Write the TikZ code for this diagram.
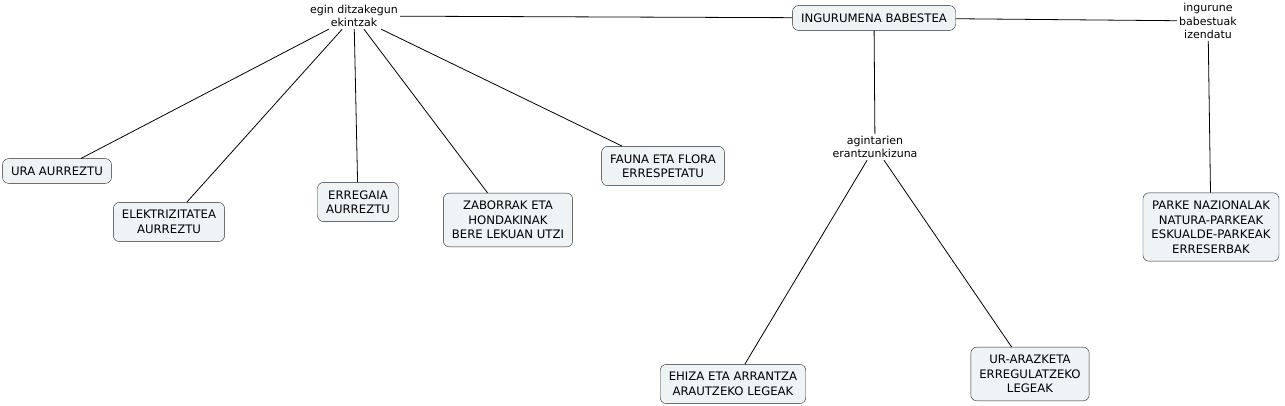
\documentclass[tikz,border=0pt]{standalone}
\usepackage{fontspec}
\setmainfont{DejaVu Sans}
\usepackage{xcolor}
\definecolor{boxfill}{HTML}{EEF3F5}
\tikzset{
  block/.style = {rectangle, draw=black!85, fill=boxfill, rounded corners=6pt, align=center, inner xsep=8.5pt, inner ysep=8pt, font=\fontsize{11.7}{14.5}\selectfont},
  concept/.style = {rectangle, align=center, inner sep=2pt, font=\fontsize{11}{13.5}\selectfont},
  link/.style = {draw=black, line width=0.8pt}
}
\begin{document}
\begin{tikzpicture}[x=1pt, y=-1pt]
\useasboundingbox[fill=white] (0,0) rectangle (1285,406);

% central topic and its three branches
\node[block] (root) at (874,18) {INGURUMENA BABESTEA};
\node[concept] (acts) at (354,16) {egin ditzakegun\\ekintzak};
\node[concept] (auth) at (875,147) {agintarien\\erantzunkizuna};
\node[concept] (prot) at (1208,21) {ingurune\\babestuak\\izendatu};

% what we can do
\node[block] (water) at (57,171) {URA AURREZTU};
\node[block] (elec) at (169,222) {ELEKTRIZITATEA\\AURREZTU};
\node[block] (fuel) at (358,202) {ERREGAIA\\AURREZTU};
\node[block] (waste) at (508,220) {ZABORRAK ETA\\HONDAKINAK\\BERE LEKUAN UTZI};
\node[block] (fauna) at (663,166) {FAUNA ETA FLORA\\ERRESPETATU};

% authorities
\node[block] (hunt) at (733,384) {EHIZA ETA ARRANTZA\\ARAUTZEKO LEGEAK};
\node[block] (sewage) at (1030,374) {UR-ARAZKETA\\ERREGULATZEKO\\LEGEAK};

% protected areas
\node[block] (parks) at (1211,227) {PARKE NAZIONALAK\\NATURA-PARKEAK\\ESKUALDE-PARKEAK\\ERRESERBAK};

\draw[link] (root) -- (acts);
\draw[link] (root) -- (auth);
\draw[link] (root) -- (prot);
\foreach \leaf in {water, elec, fuel, waste, fauna}
  \draw[link] (acts) -- (\leaf);
\draw[link] (auth) -- (hunt);
\draw[link] (auth) -- (sewage);
\draw[link] (prot) -- (parks);
\end{tikzpicture}
\end{document}
